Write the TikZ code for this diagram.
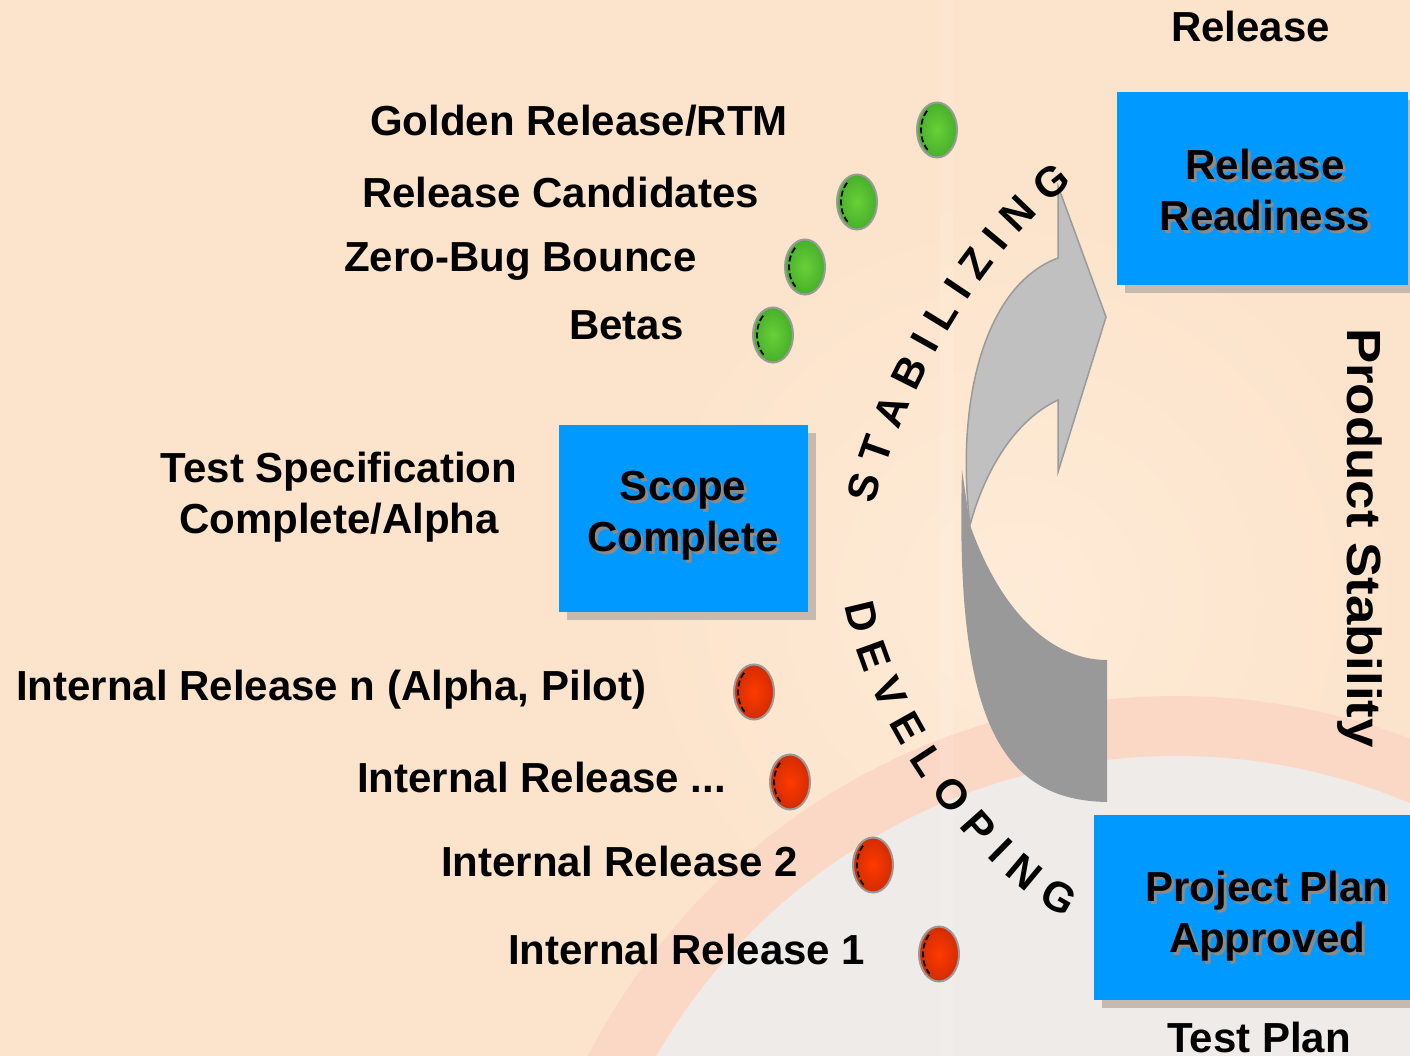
\documentclass[tikz,border=0pt]{standalone}
\usepackage{fontspec}
\setmainfont{Liberation Sans}
\usetikzlibrary{shapes.geometric,decorations.text,shadows}
\definecolor{bgc}{HTML}{FCE3CB}
\definecolor{bglight}{HTML}{FEEBD7}
\definecolor{ringc}{HTML}{FBD8C5}
\definecolor{innerc}{HTML}{EFEBE8}
\definecolor{boxblue}{HTML}{0099FF}
\definecolor{boxshadow}{HTML}{C6BAAF}
\definecolor{txtshadow}{HTML}{8A8A8A}
\definecolor{arrowlight}{HTML}{C0C0C0}
\definecolor{arrowdark}{HTML}{999999}
\definecolor{arrowedge}{HTML}{9A9A9A}
\definecolor{gin}{HTML}{6ACF38}
\definecolor{gout}{HTML}{45B02A}
\definecolor{rin}{HTML}{FF3A00}
\definecolor{rout}{HTML}{D22C00}
\newcommand\stx[1]{\makebox[0pt][l]{\kern3pt\raisebox{-3pt}{\color{txtshadow}#1}}#1}
\newcommand\mkdot[4]{%
  \node[#4] (#1) at (#2,#3) {};
  \begin{scope}
    \clip (#2-21,#3-30) rectangle (#2-9,#3+30);
    \draw[black, line width=1.8, dash pattern=on 6 off 3] (#2+1,#3) ellipse [x radius=17, y radius=25];
  \end{scope}}
\begin{document}
\begin{tikzpicture}[x=1pt,y=-1pt,
  lbl/.style={anchor=base west, inner sep=0, font=\fontsize{42}{48}\selectfont\bfseries},
  blbl/.style={inner sep=0, align=center, font=\fontsize{42}{51}\selectfont\bfseries},
  box/.style={fill=boxblue, draw=none, inner sep=0,
    drop shadow={shadow xshift=8pt, shadow yshift=-8pt, fill=boxshadow, opacity=1}},
  dotbase/.style={ellipse, minimum width=40, minimum height=55, inner sep=0, draw=arrowedge, line width=2},
  gdot/.style={dotbase, inner color=gin, outer color=gout},
  rdot/.style={dotbase, inner color=rin, outer color=rout},
  arctext/.style={decorate, decoration={text along path,
    text={|\fontsize{42}{42}\selectfont\bfseries|#1}, text align={fit to path}}}
]
\useasboundingbox (0,0) rectangle (1410,1056);
% background
\begin{scope}
  \clip (0,0) rectangle (1410,1056);
  \fill[bgc] (0,0) rectangle (1410,1056);
  \shade[inner color=bglight, outer color=bgc] (1020,600) circle [radius=420];
  \fill[ringc] (1176,1356) circle [radius=660];
  \fill[innerc] (1176,1356) circle [radius=600];
  \fill[white, opacity=0.12] (940,0) rectangle (953,1056);
\end{scope}

% curved arrow
\fill[arrowdark] (1107,660) .. controls (1050,660) and (1000,610) .. (970,525)
  -- (962,470) .. controls (955,720) and (1000,800) .. (1107,802) -- cycle;
\filldraw[fill=arrowlight, draw=arrowedge, line width=1.5, line join=miter]
  (1058,186) -- (1106,317) -- (1058,472) -- (1058,400)
  .. controls (1015,420) and (985,470) .. (970,525)
  .. controls (955,400) and (985,285) .. (1058,258) -- cycle;

% arc texts
\path[arctext=STABILIZING] (875,505) .. controls (895,407) and (983,247) .. (1073,184);
\path[arctext=DEVELOPING] (845,605) .. controls (870,735) and (985,880) .. (1066,917);

% boxes
\node[box, minimum width=291, minimum height=193] (rr) at (1262.5,188.5) {};
\node[box, minimum width=249, minimum height=187] (sc) at (683.5,518.5) {};
\node[box, minimum width=316, minimum height=185] (pp) at (1252,907.5) {};
\node[blbl] (rrt) at (1265,191.5) {\stx{Release}\\\stx{Readiness}};
\node[blbl] (sct) at (683,517) {\stx{Scope}\\\stx{Complete}};
\node[blbl] (ppt) at (1267,918) {\stx{Project Plan}\\\stx{Approved}};

% dots
\mkdot{g1}{937}{130}{gdot}
\mkdot{g2}{857}{202}{gdot}
\mkdot{g3}{805}{267}{gdot}
\mkdot{g4}{773}{335}{gdot}
\mkdot{r1}{754}{692}{rdot}
\mkdot{r2}{790}{782}{rdot}
\mkdot{r3}{873}{865}{rdot}
\mkdot{r4}{939}{954}{rdot}

% labels
\node[lbl] (l1) at (370,136) {Golden Release/RTM};
\node[lbl] (l2) at (362,208) {Release Candidates};
\node[lbl] (l3) at (344,272) {Zero-Bug Bounce};
\node[lbl] (l4) at (569,340) {Betas};
\node[blbl] (l5) at (339,497.5) {Test Specification\\Complete/Alpha};
\node[lbl] (l6) at (16,700) {Internal Release n (Alpha, Pilot)};
\node[lbl] (l7) at (357,792) {Internal Release ...};
\node[lbl] (l8) at (441,876) {Internal Release 2};
\node[lbl] (l9) at (508,964) {Internal Release 1};
\node[lbl] (rel) at (1171,42) {Release};
\node[lbl] (tp) at (1167,1052) {Test Plan};
\node[inner sep=0, rotate=-90, font=\fontsize{48}{48}\selectfont\bfseries] (ps) at (1360,538) {\scalebox{1.1}[1]{Product Stability}};
\end{tikzpicture}
\end{document}
